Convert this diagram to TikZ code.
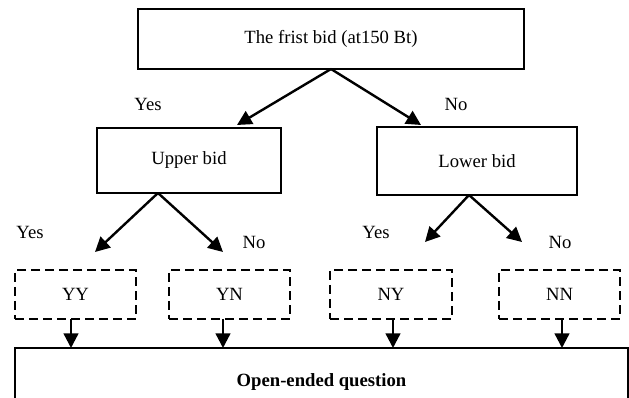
\documentclass[tikz,border=0pt]{standalone}
\usepackage{fontspec}
\setmainfont{Liberation Serif}
\usetikzlibrary{arrows.meta}

\tikzset{
    box/.style={draw, line width=1.3pt, inner sep=0pt, outer sep=0pt, font=\fontsize{14}{16}\selectfont},
    dashbox/.style={box, dashed, dash pattern=on 6.5pt off 4pt},
    answer/.style={font=\fontsize{14}{16}\selectfont},
    branch/.style={line width=1.8pt, -{Triangle[length=11pt,width=11pt]}}
}

\begin{document}
\begin{tikzpicture}[x=0.75pt, y=-0.75pt]  % 以像素为单位, y 轴向下

    \clip (0,0) rectangle (629,398);

    % 第一次出价
    \node[box, minimum width=289.5pt, minimum height=45pt] (first) at (331,39) {The frist bid (at150 Bt)};

    % 第二次出价
    \node[box, minimum width=138pt, minimum height=48.75pt] (upper) at (189,160.5) {Upper bid};
    \node[box, minimum width=150pt, minimum height=51pt] (lower) at (477,161) {Lower bid};

    % 四种回答组合
    \node[dashbox, minimum width=90.75pt, minimum height=36.75pt] (yy) at (75.5,294.5) {YY};
    \node[dashbox, minimum width=90.75pt, minimum height=36.75pt] (yn) at (229.5,294.5) {YN};
    \node[dashbox, minimum width=91.5pt, minimum height=36.75pt] (ny) at (391,294.5) {NY};
    \node[dashbox, minimum width=90.75pt, minimum height=36.75pt] (nn) at (559.5,294.5) {NN};

    % 开放式问题 (下边超出画面)
    \node[box, minimum width=459.75pt, minimum height=51pt, font=\fontsize{14}{16}\selectfont\bfseries] (open) at (321.5,382) {Open-ended question};

    % 分支的起点和箭头落点
    \coordinate (upperfork) at (158,193);
    \coordinate (lowerfork) at (469,195);
    \coordinate (upperend) at (237,125);
    \coordinate (lowerend) at (421,125);
    \coordinate (yyend) at (95,252);
    \coordinate (ynend) at (223,252);
    \coordinate (nyend) at (425,242);
    \coordinate (nnend) at (522,242);

    % 第一层箭头
    \draw[branch] (first.south) -- (upperend);
    \draw[branch] (first.south) -- (lowerend);

    % 第二层箭头
    \draw[branch] (upperfork) -- (yyend);
    \draw[branch] (upperfork) -- (ynend);
    \draw[branch] (lowerfork) -- (nyend);
    \draw[branch] (lowerfork) -- (nnend);

    % 进入开放式问题
    \foreach \s/\x in {yy/71, yn/223, ny/393, nn/562}
        \draw[branch] (\x,319) -- (\x,348);

    % 标签
    \node[answer] (yes1) at (148,104) {Yes};
    \node[answer] (no1) at (456,104) {No};
    \node[answer] (yes2) at (30,232) {Yes};
    \node[answer] (no2) at (254,242) {No};
    \node[answer] (yes3) at (376,232) {Yes};
    \node[answer] (no3) at (560,242) {No};

\end{tikzpicture}
\end{document}
